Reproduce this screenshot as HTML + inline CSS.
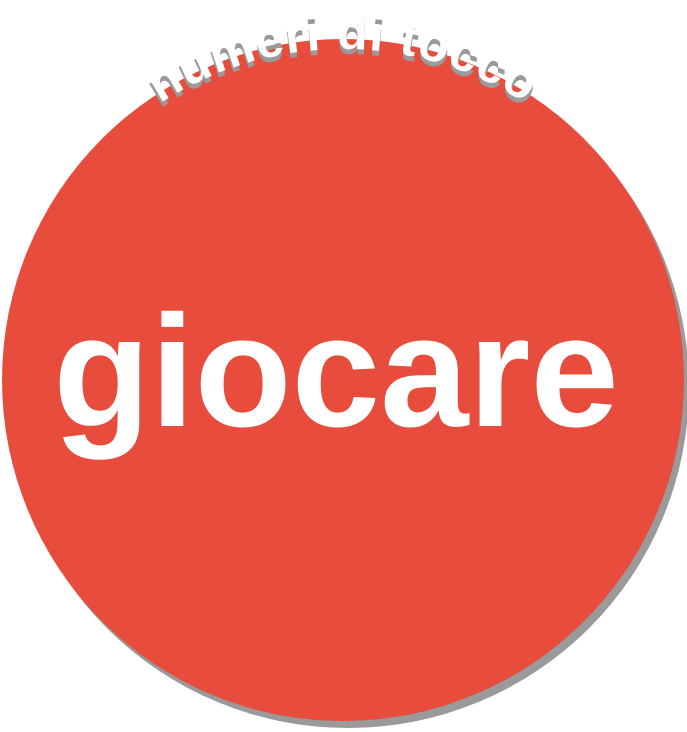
<!DOCTYPE html>
<html><head><meta charset="utf-8"><style>
html,body{margin:0;padding:0;background:#fff;width:687px;height:732px;overflow:hidden}
</style></head><body>
<svg width="687" height="732" viewBox="0 0 687 732">
<defs>
<path id="arc" d="M 9 383 A 334 334 0 0 1 677 383"/>
</defs>
<circle cx="348" cy="387" r="341" fill="#9a9a9a"/>
<circle cx="343" cy="380" r="341" fill="#e74c3c"/>
<text font-family="Liberation Sans, sans-serif" font-weight="bold" font-size="50" fill="#9a9a9a" letter-spacing="1" transform="translate(0,5)"><textPath href="#arc" startOffset="50%" text-anchor="middle">numeri di tocco</textPath></text>
<text font-family="Liberation Sans, sans-serif" font-weight="bold" font-size="50" fill="#fff" letter-spacing="1"><textPath href="#arc" startOffset="50%" text-anchor="middle">numeri di tocco</textPath></text>
<text x="336" y="426" text-anchor="middle" font-family="Liberation Sans, sans-serif" font-weight="bold" font-size="159" fill="#fff">giocare</text>
</svg>
</body></html>
